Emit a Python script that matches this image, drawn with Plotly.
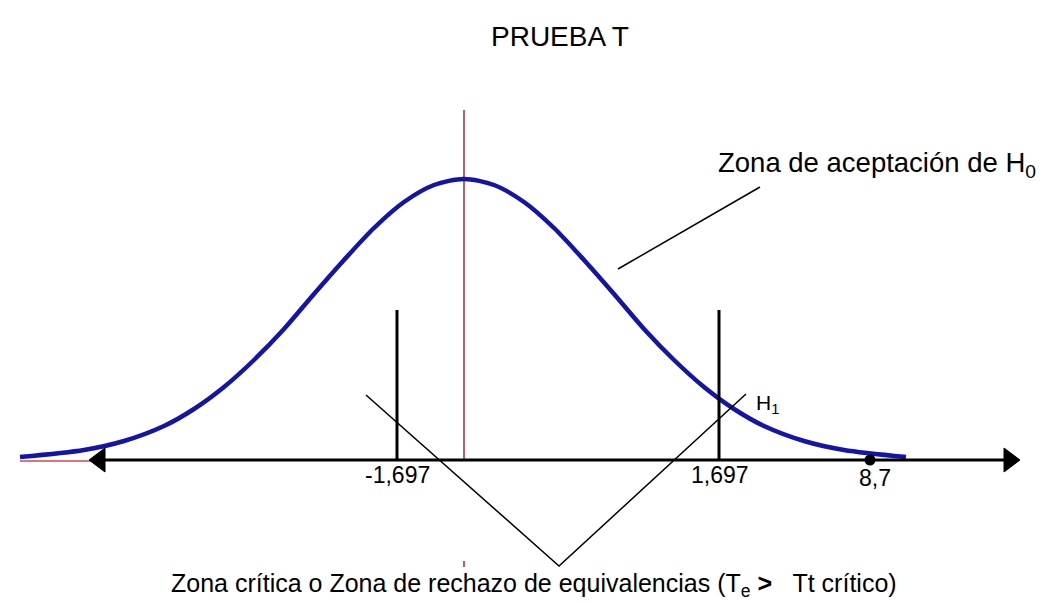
import plotly.graph_objects as go

# ---- data (in picture units) ----
curve_x = [12, 76, 116, 156, 186, 216, 246, 276, 306, 336, 366, 396, 426, 456,
           486, 516, 546, 576, 606, 636, 666, 696, 726, 756, 796, 836, 898]
curve_y = [449, 442, 433, 418, 401, 379, 352, 321, 286, 252, 220, 194, 177, 171,
           177, 194, 220, 252, 286, 321, 352, 379, 401, 418, 433, 442, 449]

baseline_y = 452
center_x = 456
center_top = 102
critical_x = [389, 711]
critical_top = 302
critical_labels = ["-1,697", "1,697"]
stat_x = 862
stat_label = "8,7"
axis_left = 81
axis_right = 1012

title_text = "PRUEBA T"
accept_text = "Zona de aceptación de H<sub>0</sub>"
h1_text = "H<sub>1</sub>"
critical_text = "Zona crítica o Zona de rechazo de equivalencias (T<sub>e</sub> <b>&gt;</b>   Tt crítico)"

FONT = "Liberation Sans, Arial, sans-serif"
fig = go.Figure()

def seg(xs, ys, color, width):
    fig.add_trace(go.Scatter(x=xs, y=ys, mode="lines",
                             line=dict(color=color, width=width),
                             hoverinfo="skip", showlegend=False))

# red baseline stub at far left
seg([curve_x[0], axis_left + 4], [baseline_y + 1, baseline_y + 1], "#d04848", 1.5)
# red center line
seg([center_x, center_x], [center_top, baseline_y], "#c45a68", 2)
seg([center_x, center_x], [553, 559], "#c45a68", 2)

# bell curve
fig.add_trace(go.Scatter(x=curve_x, y=curve_y, mode="lines",
                         line=dict(color="#1414a8", width=4.5, shape="spline", smoothing=0.8),
                         hoverinfo="skip", showlegend=False))

# horizontal axis with arrowheads
seg([axis_left + 14, axis_right - 14], [baseline_y, baseline_y], "black", 3)
ah_len, ah_half = 16, 12
fig.add_trace(go.Scatter(
    x=[axis_left, axis_left + ah_len, axis_left + ah_len, axis_left],
    y=[baseline_y, baseline_y - ah_half, baseline_y + ah_half, baseline_y],
    mode="lines", fill="toself", fillcolor="black", line=dict(color="black", width=1),
    hoverinfo="skip", showlegend=False))
fig.add_trace(go.Scatter(
    x=[axis_right, axis_right - ah_len, axis_right - ah_len, axis_right],
    y=[baseline_y, baseline_y - ah_half, baseline_y + ah_half, baseline_y],
    mode="lines", fill="toself", fillcolor="black", line=dict(color="black", width=1),
    hoverinfo="skip", showlegend=False))

# critical value lines
for cx in critical_x:
    seg([cx, cx], [critical_top, baseline_y], "black", 3)

# test statistic dot
fig.add_trace(go.Scatter(x=[stat_x], y=[baseline_y], mode="markers",
                         marker=dict(color="black", size=11),
                         hoverinfo="skip", showlegend=False))

# leader lines
seg([752, 610], [179, 261], "black", 1.5)
seg([358, 551, 738], [387, 558, 386], "black", 1.5)

# texts
ann = [
    dict(x=552, y=28, text=title_text, size=28, xanchor="center"),
    dict(x=708, y=156, text=accept_text, size=27.5, xanchor="left"),
    dict(x=746, y=396, text=h1_text, size=21, xanchor="left"),
    dict(x=critical_x[0], y=467, text=critical_labels[0], size=23, xanchor="center"),
    dict(x=critical_x[1] + 1, y=467, text=critical_labels[1], size=23, xanchor="center"),
    dict(x=stat_x + 5, y=470, text=stat_label, size=23, xanchor="center"),
    dict(x=526, y=577, text=critical_text, size=25, xanchor="center"),
]
for a in ann:
    fig.add_annotation(x=a["x"], y=a["y"], xref="x", yref="y", text=a["text"],
                       showarrow=False, xanchor=a["xanchor"], yanchor="middle",
                       font=dict(family=FONT, size=a["size"], color="black"))

fig.update_xaxes(range=[0, 1053], visible=False, fixedrange=True)
fig.update_yaxes(range=[603, 0], visible=False, fixedrange=True)
fig.update_layout(width=1053, height=603, margin=dict(l=0, r=0, t=0, b=0),
                  paper_bgcolor="white", plot_bgcolor="white", showlegend=False)

fig.write_html("out.html", config={"displayModeBar": False})
